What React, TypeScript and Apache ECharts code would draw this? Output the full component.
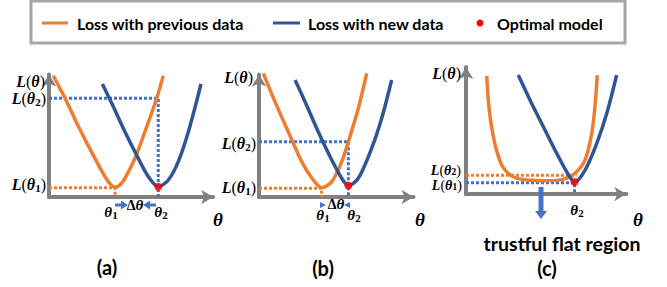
import React, { useEffect, useRef } from 'react';
import * as echarts from 'echarts';

// Legend / series names
const seriesNames = ['Loss with previous data', 'Loss with new data', 'Optimal model'];
const panelLabels = ['(a)', '(b)', '(c)'];
const flatLabel = 'trustful flat region';

// Panel (a): [theta, loss] in percent of axis span
const prevA = [[2.5, 94.0], [9.4, 76.5], [17.1, 55.0], [25.0, 34.6], [31.8, 18.0], [35.5, 10.5], [38.6, 7.5], [41.8, 9.8], [44.4, 14.5], [50.3, 30.0], [56.1, 50.6], [63.0, 76.5], [66.8, 94.0]];
const newA = [[31.2, 87.6], [36.7, 72.6], [44.4, 50.6], [52.2, 30.0], [58.1, 15.7], [63.9, 8.0], [69.8, 13.2], [75.6, 27.4], [81.5, 50.6], [88.9, 87.6]];
const optA = [[63.9, 8.0]];
const levelsA = { theta1: 38.6, theta2: 63.9, L1: 7.2, L2: 76.5 };

// Panel (b)
const prevB = [[2.7, 95.9], [9.9, 73.9], [18.2, 50.6], [26.5, 27.4], [33.7, 13.2], [38.9, 7.2], [45.2, 11.9], [51.4, 27.4], [55.5, 42.9], [61.7, 68.8], [66.9, 95.9]];
const newB = [[22.4, 90.7], [28.6, 73.9], [36.8, 50.6], [45.2, 28.7], [51.4, 14.5], [55.5, 8.8], [61.7, 14.5], [70.0, 37.8], [76.2, 61.0], [82.4, 90.7]];
const optB = [[55.5, 8.8]];
const levelsB = { theta1: 38.9, theta2: 55.5, L1: 6.7, L2: 42.9 };

// Panel (c)
const prevC = [[12.4, 90.1], [13.4, 71.0], [15.4, 50.6], [18.4, 32.8], [22.3, 20.1], [28.3, 13.2], [36.3, 10.7], [48.3, 10.2], [58.3, 11.2], [65.3, 15.8], [71.3, 26.0], [75.3, 46.3], [77.2, 66.6], [78.6, 90.8]];
const newC = [[31.3, 90.8], [38.3, 71.8], [46.3, 51.4], [54.3, 31.1], [60.3, 17.0], [65.0, 9.2], [71.3, 18.3], [78.3, 38.7], [84.3, 61.6], [90.2, 90.8]];
const optC = [[65.0, 9.2]];
const levelsC = { theta2: 65.0, L1: 8.6, L2: 14.3, L2end: 66.3 };

const ORANGE = '#ED7D31';
const NAVY = '#2F5597';
const DOTBLUE = '#4472C4';
const AXIS = '#808080';

const panels = [
  { left: 49, bottom: 197, sx: 1.71, sy: 1.29, xmax: 96, ymax: 95 },
  { left: 259, bottom: 197, sx: 1.61, sy: 1.29, xmax: 96, ymax: 95 },
  { left: 466, bottom: 194, sx: 1.67, sy: 1.31, xmax: 96, ymax: 97 },
];

const SERIF = 'Liberation Serif';
const rich = {
  v: { fontFamily: SERIF, fontStyle: 'italic', fontWeight: 'bold', fontSize: 16, lineHeight: 18, color: '#000' },
  p: { fontFamily: SERIF, fontSize: 16, lineHeight: 18, color: '#6e4436' },
  s: { fontFamily: SERIF, fontWeight: 'bold', fontSize: 11, lineHeight: 10, verticalAlign: 'bottom', color: '#000' },
  v2: { fontFamily: SERIF, fontStyle: 'italic', fontWeight: 'bold', fontSize: 14, lineHeight: 12, color: '#000' },
  p2: { fontFamily: SERIF, fontSize: 14, lineHeight: 12, color: '#6e4436' },
  s2: { fontFamily: SERIF, fontWeight: 'bold', fontSize: 10, lineHeight: 6, verticalAlign: 'bottom', color: '#000' },
  t: { fontFamily: SERIF, fontStyle: 'italic', fontWeight: 'bold', fontSize: 15, lineHeight: 16, color: '#000' },
  ts: { fontFamily: SERIF, fontWeight: 'bold', fontSize: 11, lineHeight: 9, verticalAlign: 'bottom', color: '#000' },
  d: { fontFamily: SERIF, fontWeight: 'bold', fontSize: 14, lineHeight: 16, color: '#000' },
  big: { fontFamily: SERIF, fontStyle: 'italic', fontWeight: 'bold', fontSize: 19, lineHeight: 20, color: '#000' },
};

const Lth = '{v|L}{p|(}{v|θ}{p|)}';
const Lth1 = '{v|L}{p|(}{v|θ}{s|1}{p|)}';
const Lth2 = '{v|L}{p|(}{v|θ}{s|2}{p|)}';
const Lth1c = '{v2|L}{p2|(}{v2|θ}{s2|1}{p2|)}';
const Lth2c = '{v2|L}{p2|(}{v2|θ}{s2|2}{p2|)}';
const th1 = '{t|θ}{ts|1}';
const th2 = '{t|θ}{ts|2}';
const dth = '{d|Δ}{t|θ}';
const thBig = '{big|θ}';

function mtext(x: number, y: number, text: string, align: string = 'center') {
  return {
    type: 'text', x, y, z: 10,
    style: { text, rich, align, verticalAlign: 'middle', textAlign: align, textVerticalAlign: 'middle' },
  };
}

function ptext(x: number, y: number, text: string, size: number, align: string = 'center') {
  return {
    type: 'text', x, y, z: 10,
    style: {
      text, fill: '#000', font: `bold ${size}px Lato, "Open Sans", sans-serif`,
      align, verticalAlign: 'middle', textAlign: align, textVerticalAlign: 'middle',
    },
  };
}

function tri(points: number[][]) {
  return { type: 'polygon', z: 10, shape: { points }, style: { fill: DOTBLUE } };
}
function seg(x1: number, y1: number, x2: number, y2: number, w: number) {
  return { type: 'line', z: 10, shape: { x1, y1, x2, y2 }, style: { stroke: DOTBLUE, lineWidth: w } };
}

export default function App() {
  const ref = useRef<HTMLDivElement>(null);
  useEffect(() => {
    if (!ref.current) return;
    const chart = echarts.init(ref.current, null, { renderer: 'svg' });

    const grids = panels.map((p) => ({
      left: p.left,
      top: p.bottom - p.ymax * p.sy,
      width: p.xmax * p.sx,
      height: p.ymax * p.sy,
    }));
    const axisLine = {
      show: true, onZero: false,
      symbol: ['none', 'arrow'], symbolSize: [11, 12],
      lineStyle: { color: AXIS, width: 4 },
    };
    const xAxes = panels.map((p, i) => ({
      type: 'value', gridIndex: i, min: 0, max: p.xmax,
      axisLine, axisTick: { show: false }, axisLabel: { show: false }, splitLine: { show: false },
    }));
    const yAxes = panels.map((p, i) => ({
      type: 'value', gridIndex: i, min: 0, max: p.ymax,
      axisLine, axisTick: { show: false }, axisLabel: { show: false }, splitLine: { show: false },
    }));

    const curve = (name: string, data: number[][], color: string, i: number) => ({
      type: 'line', name, data, xAxisIndex: i, yAxisIndex: i, smooth: 0.3,
      symbol: 'none', clip: false, z: 3,
      lineStyle: { color, width: 3.5 },
    });
    const dotted = (data: number[][], color: string, i: number) => ({
      type: 'line', data, xAxisIndex: i, yAxisIndex: i, symbol: 'none', clip: false, z: 2,
      lineStyle: { color, width: 3, type: [3, 2] },
    });
    const dot = (data: number[][], i: number) => ({
      type: 'scatter', name: seriesNames[2], data, xAxisIndex: i, yAxisIndex: i,
      symbolSize: 8, itemStyle: { color: '#FF0000' }, z: 5,
    });

    const series = [
      dotted([[0, levelsA.L2], [levelsA.theta2, levelsA.L2], [levelsA.theta2, 0]], DOTBLUE, 0),
      dotted([[0, levelsA.L1], [levelsA.theta1, levelsA.L1], [levelsA.theta1, 0]], ORANGE, 0),
      curve(seriesNames[0], prevA, ORANGE, 0),
      curve(seriesNames[1], newA, NAVY, 0),
      dot(optA, 0),
      dotted([[0, levelsB.L2], [levelsB.theta2, levelsB.L2], [levelsB.theta2, 0]], DOTBLUE, 1),
      dotted([[0, levelsB.L1], [levelsB.theta1, levelsB.L1], [levelsB.theta1, 0]], ORANGE, 1),
      curve(seriesNames[0], prevB, ORANGE, 1),
      curve(seriesNames[1], newB, NAVY, 1),
      dot(optB, 1),
      dotted([[0, levelsC.L2], [levelsC.L2end, levelsC.L2]], ORANGE, 2),
      dotted([[0, levelsC.L1], [levelsC.theta2, levelsC.L1], [levelsC.theta2, 0]], DOTBLUE, 2),
      curve(seriesNames[0], prevC, ORANGE, 2),
      curve(seriesNames[1], newC, NAVY, 2),
      dot(optC, 2),
    ];

    const graphic: any[] = [
      // legend box
      { type: 'rect', z: 1, shape: { x: 31, y: 1, width: 594, height: 42 }, style: { fill: '#fff', stroke: '#a6a6a6', lineWidth: 3 } },
      { type: 'line', z: 2, shape: { x1: 42, y1: 23, x2: 68, y2: 23 }, style: { stroke: ORANGE, lineWidth: 3 } },
      ptext(77, 23, seriesNames[0], 16, 'left'),
      { type: 'line', z: 2, shape: { x1: 273, y1: 23, x2: 300, y2: 23 }, style: { stroke: NAVY, lineWidth: 3 } },
      ptext(308, 23, seriesNames[1], 16, 'left'),
      { type: 'circle', z: 2, shape: { cx: 480, cy: 23, r: 3.5 }, style: { fill: '#FF0000' } },
      ptext(497, 23, seriesNames[2], 16, 'left'),

      // panel (a) labels
      mtext(45, 81, Lth, 'right'),
      mtext(46, 98, Lth2, 'right'),
      mtext(46, 184, Lth1, 'right'),
      mtext(111, 212, th1),
      mtext(135, 205, dth),
      mtext(161, 212, th2),
      mtext(218, 219, thBig),
      seg(115, 205, 123, 205, 3),
      tri([[121, 200.5], [128, 205], [121, 209.5]]),
      seg(156, 205, 148, 205, 3),
      tri([[150, 200.5], [143, 205], [150, 209.5]]),
      ptext(107, 267, panelLabels[0], 20),

      // panel (b) labels
      mtext(253, 77, Lth, 'right'),
      mtext(256, 143, Lth2, 'right'),
      mtext(256, 187, Lth1, 'right'),
      mtext(323, 215, th1),
      mtext(336, 204, dth),
      mtext(354, 215, th2),
      mtext(420, 219, thBig),
      tri([[320, 202], [326, 205], [320, 208]]),
      tri([[350, 202], [344, 205], [350, 208]]),
      ptext(323, 268, panelLabels[1], 20),

      // panel (c) labels
      mtext(461, 73, Lth, 'right'),
      mtext(461, 170, Lth2c, 'right'),
      mtext(462, 185, Lth1c, 'right'),
      mtext(577, 210, th2),
      mtext(638, 219, thBig),
      { type: 'rect', z: 10, shape: { x: 538.5, y: 187, width: 5, height: 25 }, style: { fill: DOTBLUE } },
      tri([[535, 211], [547, 211], [541, 219]]),
      ptext(562, 243, flatLabel, 19.5),
      ptext(547, 268, panelLabels[2], 20),
    ];

    chart.setOption({
      animation: false,
      backgroundColor: '#fff',
      grid: grids,
      xAxis: xAxes,
      yAxis: yAxes,
      series,
      graphic,
    });
    return () => chart.dispose();
  }, []);

  return <div ref={ref} style={{ position: 'fixed', left: 0, top: 0, width: 667, height: 287 }} />;
}
